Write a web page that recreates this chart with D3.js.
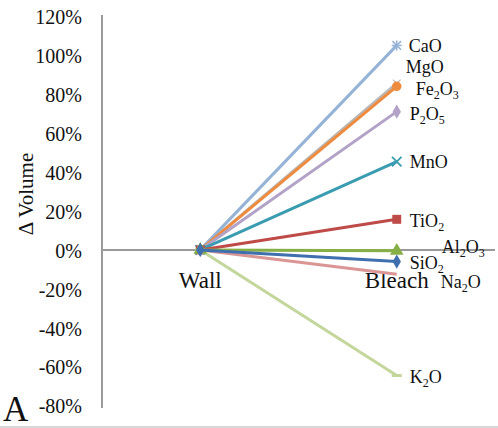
<!DOCTYPE html>
<html>
<head>
<meta charset="utf-8">
<script src="https://cdn.jsdelivr.net/npm/d3@7"></script>
<style>
  html, body { margin: 0; padding: 0; background: #fff; }
  svg { display: block; }
  svg text { font-family: "Liberation Serif", "Times New Roman", "DejaVu Serif", serif !important; fill: #111; }
</style>
</head>
<body>
<svg id="chart" width="498" height="428"></svg>
<script>
// ---- data ----
const categories = ["Wall", "Bleach"];
const seriesNames = ["MgO", "CaO", "Fe2O3", "P2O5", "MnO", "TiO2", "Na2O", "K2O", "Al2O3", "SiO2"];
const wallValues   = [0, 0, 0, 0, 0, 0, 0, 0, 0, 0];
const bleachValues = [0.855, 1.05, 0.84, 0.71, 0.453, 0.157, -0.125, -0.645, -0.005, -0.06];
const yTicks = [-0.8, -0.6, -0.4, -0.2, 0, 0.2, 0.4, 0.6, 0.8, 1.0, 1.2];

// ---- styles (kept apart from data) ----
const colors = {
  MgO: "#B8B8B8", CaO: "#95B3D7", Fe2O3: "#EE8B3E", P2O5: "#B3A2C7", MnO: "#3A9CB0",
  TiO2: "#BE4B48", Na2O: "#D99694", K2O: "#C3D69B", Al2O3: "#86B046", SiO2: "#3F6FAE"
};
const markers = {
  MgO: "cross", CaO: "star", Fe2O3: "circle", P2O5: "diamond", MnO: "x",
  TiO2: "square", Na2O: "none", K2O: "dash", Al2O3: "triangle", SiO2: "diamond"
};
const labelOffset = { // dx from Bleach point, dy of baseline from point
  CaO: [12, 7], MgO: [9, -10], Fe2O3: [19, 9], P2O5: [13, 8], MnO: [13, 6],
  TiO2: [13, 8], Al2O3: [45, 2], SiO2: [13, 7], Na2O: [44, 14], K2O: [13, 7]
};

const svg = d3.select("#chart");
const W = 498, H = 428;
const x = d3.scalePoint().domain(categories).range([102, 495]).padding(0.5);
const y = d3.scaleLinear().domain([-0.8, 1.2]).range([405.7, 16.2]);
const axisColor = "#9a9a9a";
const serif = '"Liberation Serif", "Times New Roman", serif';

// bottom border line
svg.append("line").attr("x1", 0).attr("x2", W).attr("y1", H - 1).attr("y2", H - 1)
  .attr("stroke", "#c8c8c8").attr("stroke-width", 1.5);

// y axis
const yAxis = d3.axisLeft(y).tickValues(yTicks).tickSize(0).tickPadding(20)
  .tickFormat(d => Math.round(d * 100) + "%");
const gy = svg.append("g").attr("transform", "translate(102,0)").call(yAxis)
  .attr("font-family", null);
gy.select(".domain").remove();
gy.append("line").attr("x1", 0).attr("x2", 0).attr("y1", 15).attr("y2", 408)
  .attr("stroke", axisColor).attr("stroke-width", 2);
gy.selectAll(".tick text").style("font-family", serif)
  .attr("font-size", 20).attr("fill", "#111").attr("dy", "0.36em");

// x axis at zero
svg.append("line").attr("x1", 102).attr("x2", 495).attr("y1", y(0)).attr("y2", y(0))
  .attr("stroke", axisColor).attr("stroke-width", 2);

// category labels
svg.selectAll(".cat").data(categories).enter().append("text")
  .attr("class", "cat")
  .attr("x", d => x(d)).attr("y", 288)
  .attr("text-anchor", "middle").attr("font-size", 23)
  .style("font-family", serif)
  .text(d => d);

// y title
svg.append("text")
  .attr("transform", "translate(33,194) rotate(-90)")
  .attr("text-anchor", "middle").attr("font-size", 21)
  .style("font-family", serif)
  .text("\u0394 Volume");

// panel letter
svg.append("text").attr("x", 3).attr("y", 421).attr("font-size", 35)
  .style("font-family", serif).text("A");

// series
const series = seriesNames.map((n, i) => ({
  name: n, values: [{c: categories[0], v: wallValues[i]}, {c: categories[1], v: bleachValues[i]}]
}));
const line = d3.line().x(d => x(d.c)).y(d => y(d.v));

const g = svg.append("g");
series.forEach(s => {
  const col = colors[s.name];
  g.append("path").attr("d", line(s.values)).attr("fill", "none")
    .attr("stroke", col).attr("stroke-width", 3);
  s.values.forEach(p => {
    const cx = x(p.c), cy = y(p.v);
    const m = markers[s.name];
    const mg = g.append("g").attr("transform", `translate(${cx},${cy})`);
    if (m === "circle") mg.append("path").attr("d", d3.symbol(d3.symbolCircle, 70)()).attr("fill", col);
    else if (m === "square") mg.append("path").attr("d", d3.symbol(d3.symbolSquare, 80)()).attr("fill", col);
    else if (m === "diamond") mg.append("path").attr("d", d3.symbol(d3.symbolDiamond, 60)()).attr("fill", col);
    else if (m === "triangle") mg.append("path").attr("d", d3.symbol(d3.symbolTriangle, 80)()).attr("fill", col);
    else if (m === "x") mg.append("path").attr("d", d3.symbol(d3.symbolTimes, 60)()).attr("fill", "none").attr("stroke", col).attr("stroke-width", 1.8);
    else if (m === "cross") mg.append("path").attr("d", d3.symbol(d3.symbolTimes, 40)()).attr("fill", "none").attr("stroke", col).attr("stroke-width", 1.2);
    else if (m === "star") {
      mg.append("path").attr("d", d3.symbol(d3.symbolTimes, 50)()).attr("fill", "none").attr("stroke", col).attr("stroke-width", 1.5);
      mg.append("path").attr("d", "M-5,0H5M0,-5V5").attr("stroke", col).attr("stroke-width", 1.5);
    }
    else if (m === "dash") mg.append("path").attr("d", "M-5,0H5").attr("stroke", col).attr("stroke-width", 3);
  });
});

// series labels with subscripts
series.forEach(s => {
  const last = s.values[1];
  const off = labelOffset[s.name];
  const t = svg.append("text")
    .attr("x", x(last.c) + off[0]).attr("y", y(last.v) + off[1])
    .attr("font-size", 18)
    .style("font-family", serif);
  const parts = s.name.match(/[A-Za-z]+|\d+/g);
  let prevSub = false;
  parts.forEach(p => {
    const isSub = /\d/.test(p);
    const ts = t.append("tspan").text(p);
    if (isSub) { ts.attr("font-size", 12).attr("dy", 4); prevSub = true; }
    else if (prevSub) { ts.attr("dy", -4); prevSub = false; }
  });
});
</script>
</body>
</html>
